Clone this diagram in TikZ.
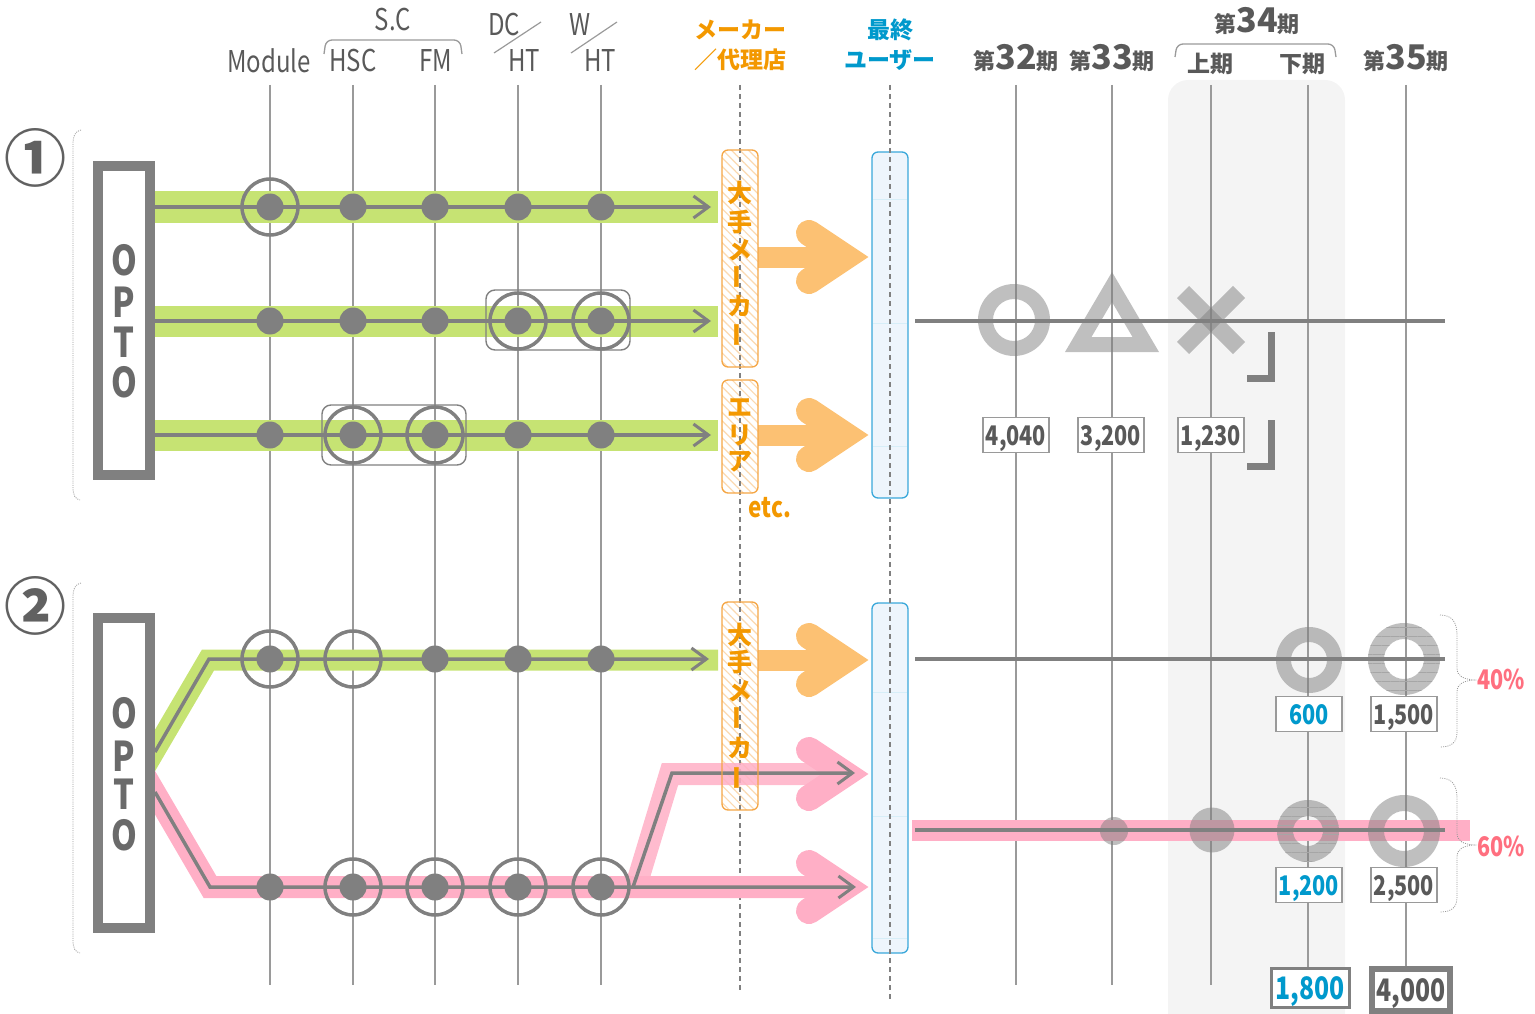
\documentclass[tikz,border=0pt]{standalone}
\usepackage{fontspec}
\setmainfont{Noto Sans CJK JP}
\newfontfamily\jp{Noto Sans CJK JP}
\newfontfamily\cond{Noto Sans CJK JP}[FakeStretch=0.8]
\usetikzlibrary{arrows.meta,patterns.meta}
\definecolor{gline}{HTML}{808080}
\definecolor{vline}{HTML}{9A9A9A}
\definecolor{txt}{HTML}{595959}
\definecolor{grn}{HTML}{C6E373}
\definecolor{pnk}{HTML}{FFAFC6}
\definecolor{org}{HTML}{F39800}
\definecolor{orgl}{HTML}{FCC173}
\definecolor{orgb}{HTML}{F5A645}
\definecolor{orgh}{HTML}{FBD9B0}
\definecolor{blu}{HTML}{0099CC}
\definecolor{blub}{HTML}{3AA8DA}
\definecolor{blul}{HTML}{EEF5FC}
\definecolor{shadebg}{HTML}{F4F4F4}
\definecolor{redp}{HTML}{FF6F7F}
\newcommand{\bigarr}[3]{%
  \draw[#1, line width=21pt] (#2,#3) -- (846,#3);
  \draw[#1, line width=26pt, line cap=round, miter limit=10] (809,#3-24) -- (845,#3) -- (809,#3+24);
}
\newcommand{\per}[1]{{\jp\bfseries\fontsize{22}{22}\selectfont 第}{\jp\bfseries\fontsize{34}{34}\selectfont #1}{\jp\bfseries\fontsize{22}{22}\selectfont 期}}
\begin{document}
\begin{tikzpicture}[x=1pt,y=-1pt,
  vl/.style={draw=vline, line width=1.6pt},
  dl/.style={draw=gline, line width=1.4pt, dash pattern=on 5pt off 4pt},
  rowline/.style={draw=gline, line width=3.5pt},
  arr/.style={-{Straight Barb[length=15pt,width=22pt,line width=3pt]}},
  dotn/.style={circle, fill=gline, minimum size=27pt, inner sep=0pt},
  ringn/.style={circle, draw=gline, line width=3.5pt, minimum size=56pt, inner sep=0pt},
  grp/.style={draw=gline, line width=1.4pt, rounded corners=9pt},
  hd/.style={font=\cond\fontsize{30}{30}\selectfont, text=txt, inner sep=0pt},
  jh/.style={font=\jp\bfseries\fontsize{23}{23}\selectfont, inner sep=0pt},
  vch/.style={font=\jp\bfseries\fontsize{25}{25}\selectfont, text=org, inner sep=0pt},
  vbox/.style={draw=vline, fill=white, line width=1.3pt, minimum width=66pt, minimum height=35pt, inner sep=0pt, text height=20pt, text depth=0pt, font=\cond\bfseries\fontsize{27}{27}\selectfont, text=txt},
  opto/.style={font=\cond\bfseries\fontsize{41}{41}\selectfont, text=txt!90, inner sep=0pt},
  pct/.style={font=\cond\bfseries\fontsize{27}{27}\selectfont, text=redp, inner sep=0pt},
  brk/.style={draw=vline, line width=0.8pt, dash pattern=on 1pt off 1.2pt},
  stripe/.style={pattern={Lines[angle=0,distance=9pt,line width=0.7pt]}, pattern color=gline!70},
  cnum/.style={font=\jp\bfseries\fontsize{62}{62}\selectfont, text=txt!95, inner sep=0pt},
]
\useasboundingbox (0,0) rectangle (1535,1014);
% shaded period band
\fill[shadebg, rounded corners=20pt] (1168,80) rectangle (1345,1050);
% vertical lines
\foreach \x in {270,353,435,518,601,1016,1112,1211} \draw[vl] (\x,85) -- (\x,985);
\draw[vl] (1308,85) -- (1308,968);
\draw[vl] (1406,85) -- (1406,966);
% orange boxes (fill)
\foreach \ya/\yb in {150/367, 380/493, 602/810} {
  \fill[white, rounded corners=6pt] (722,\ya) rectangle (758,\yb);
  \path[pattern={Lines[angle=-45,distance=6pt,line width=1.2pt]}, pattern color=orgh, rounded corners=6pt] (722,\ya) rectangle (758,\yb);
}
% blue boxes
\draw[blub, fill=blul, rounded corners=6pt, line width=1.3pt] (872,152) rectangle (908,498);
\draw[blub, fill=blul, rounded corners=6pt, line width=1.3pt] (872,603) rectangle (908,953);
\foreach \y in {200,323,446,692,816,938} \draw[blub!20, line width=1pt] (873,\y) -- (907,\y);
% dashed lines
\draw[dl] (740,85) -- (740,990);
\draw[dl] (890,85) -- (890,1000);

% ===== Section 1 =====
\foreach \y in {207,321,435} {
  \fill[grn] (150,\y-15.5) rectangle (718,\y+15.5);
  \draw[rowline, arr] (155,\y) -- (711,\y);
  \foreach \x in {270,353,435,518,601} \node[dotn] at (\x,\y) {};
}
\node[ringn] (r11) at (270,207) {};
\node[ringn] (r24) at (518,321) {};
\node[ringn] (r25) at (601,321) {};
\node[ringn] (r32) at (353,435) {};
\node[ringn] (r33) at (435,435) {};
\draw[grp] (486,290) rectangle (630,350);
\draw[grp] (322,405) rectangle (466,465);
\bigarr{orgl}{758}{257}
\bigarr{orgl}{758}{435}

% ===== Section 2 =====
\draw[grn, line width=21pt] (140,776) -- (208,660) -- (718,660);
\draw[pnk, line width=22pt] (140,767) -- (210,887) -- (846,887);
\draw[pnk, line width=22pt, opacity=0.85] (636,886) -- (670,774) -- (846,774);
\bigarr{orgl}{758}{660}
\bigarr{pnk}{846}{774}
\bigarr{pnk}{846}{887}
\coordinate (s2a) at (155,752);
\coordinate (s2b) at (155,792);
\draw[rowline, arr] (s2a) -- (209,659) -- (709,659);
\draw[rowline, arr] (s2b) -- (210,887) -- (856,887);
\draw[rowline, arr] (633,887) -- (672,773) -- (855,773);
\foreach \x in {270,435,518,601} \node[dotn] at (\x,659) {};
\foreach \x in {270,353,435,518,601} \node[dotn] at (\x,887) {};
\node[ringn] at (270,659) {};
\node[ringn] at (353,659) {};
\foreach \x in {353,435,518,601} \node[ringn] at (\x,887) {};

% orange box borders
\foreach \ya/\yb in {150/367, 380/493, 602/810}
  \draw[orgb, rounded corners=6pt, line width=1.3pt] (722,\ya) rectangle (758,\yb);

% OPTO boxes
\draw[gline, fill=white, line width=10pt] (98,166) rectangle (150,475);
\draw[gline, fill=white, line width=10pt] (98,618) rectangle (150,928);
\foreach \ch/\y in {O/260,P/302,T/342,O/382} \node[opto] at (124,\y) {\ch};
\foreach \ch/\y in {O/713,P/756,T/794,O/835} \node[opto] at (124,\y) {\ch};

% circled numbers and left brackets
\node[cnum] (n1) at (36,158) {①};
\node[cnum] (n2) at (36,606) {②};
\draw[brk] (81,130) .. controls (75,131) and (73,136) .. (73,145) -- (73,487) .. controls (73,495) and (75,499) .. (80,500);
\draw[brk] (81,583) .. controls (75,584) and (73,589) .. (73,598) -- (73,940) .. controls (73,948) and (75,952) .. (80,953);

% vertical orange text
\foreach \ch/\y in {大/193,手/222,メ/250,カ/306} \node[vch] at (740,\y) {\ch};
\foreach \y in {277,335} \node[vch, rotate=90] at (740,\y) {ー};
\foreach \ch/\y in {エ/408,リ/435,ア/462} \node[vch] at (740,\y) {\ch};
\foreach \ch/\y in {大/635,手/662,メ/691,カ/748} \node[vch] at (740,\y) {\ch};
\foreach \y in {718,778} \node[vch, rotate=90] at (740,\y) {ー};
\node[font=\cond\bfseries\fontsize{28}{28}\selectfont, text=org, inner sep=0pt] (etc) at (770,508) {etc.};

% ===== right side =====
\draw[rowline] (915,321) -- (1445,321);
\draw[rowline] (915,659) -- (1445,659);
\fill[pnk] (912,820) rectangle (1470,841);
\draw[rowline] (915,830) -- (1445,830);
% symbols
\fill[gline, opacity=0.5, even odd rule] (1014,320) circle (36) (1014,320) circle (21);
\fill[gline, opacity=0.5, even odd rule] (1065,352) -- (1159,352) -- (1112,272) -- cycle (1091.5,337) -- (1132.5,337) -- (1112,302) -- cycle;
\draw[gline, opacity=0.5, line width=17pt] (1183,292) -- (1239,348);
\draw[gline, opacity=0.5, line width=17pt] (1239,292) -- (1183,348);
\draw[gline, line width=7pt] (1247,378.5) -- (1271.5,378.5) -- (1271.5,332);
\draw[gline, line width=7pt] (1247,466.5) -- (1271.5,466.5) -- (1271.5,420);
% section 2 symbols
\fill[gline, opacity=0.5, even odd rule] (1309,660) circle (33) (1309,660) circle (18);
\fill[gline, opacity=0.5, even odd rule] (1404,659) circle (36) (1404,659) circle (20);
\fill[stripe, even odd rule] (1404,659) circle (36) (1404,659) circle (20);
\fill[gline, opacity=0.5] (1114,831) circle (14);
\fill[gline, opacity=0.5] (1212,830) circle (22.5);
\fill[gline, opacity=0.5, even odd rule] (1308,831) circle (31) (1308,831) circle (15);
\fill[stripe, even odd rule] (1308,831) circle (31) (1308,831) circle (15);
\fill[gline, opacity=0.5, even odd rule] (1404,831) circle (36) (1404,831) circle (20);
% value boxes
\node[vbox] (v32) at (1016,435) {4,040};
\node[vbox] (v33) at (1111,435) {3,200};
\node[vbox] (v34) at (1211,435) {1,230};
\node[vbox, text=blu] (v600) at (1309,714) {600};
\node[vbox] (v1500) at (1404,714) {1,500};
\node[vbox, text=blu] (v1200) at (1309,885) {1,200};
\node[vbox] (v2500) at (1404,885) {2,500};
\node[vbox, text=blu, line width=3pt, draw=gline, minimum width=78pt, minimum height=39pt, text height=23pt, font=\cond\bfseries\fontsize{31}{31}\selectfont] (v1800) at (1310,988) {1,800};
\node[vbox, line width=6pt, draw=gline, minimum width=78pt, minimum height=42pt, text height=23pt, font=\cond\bfseries\fontsize{31}{31}\selectfont] (v4000) at (1411,990) {4,000};
% right braces
\draw[brk] (1440,615) .. controls (1452,615) and (1457,622) .. (1457,635) -- (1457,668) .. controls (1457,676) and (1463,679) .. (1474,680) .. controls (1463,681) and (1457,684) .. (1457,692) -- (1457,732) .. controls (1457,742) and (1452,747) .. (1440,747);
\draw[brk] (1440,778) .. controls (1452,778) and (1457,785) .. (1457,798) -- (1457,833) .. controls (1457,841) and (1463,844) .. (1474,845) .. controls (1463,846) and (1457,849) .. (1457,857) -- (1457,897) .. controls (1457,907) and (1452,912) .. (1440,912);
\node[pct] (p40) at (1501,679) {40\%};
\node[pct] (p60) at (1501,846) {60\%};

% ===== header =====
\node[hd] (hmod) at (269,61) {Module};
\node[hd] (hhsc) at (353,61) {HSC};
\node[hd] (hfm) at (436,61) {FM};
\node[hd] (hsc) at (393,20) {S.C};
\draw[vline, line width=1.3pt, rounded corners=6pt] (324,54) -- (326,40) -- (460,40) -- (462,54);
\node[hd] (hdc) at (504,25) {DC};
\node[hd] (hht1) at (524,61) {HT};
\node[hd] (hw) at (580,25) {W};
\node[hd] (hht2) at (600,61) {HT};
\draw[vline, line width=1.2pt] (494,53) -- (541,22);
\draw[vline, line width=1.2pt] (571,53) -- (617,22);
\node[jh, text=org] (hmk1) at (740,30) {メーカー};
\node[jh, text=org] (hmk2) at (740,60) {／代理店};
\node[jh, text=blu] (hus1) at (890,30) {最終};
\node[jh, text=blu] (hus2) at (890,60) {ユーザー};
\node[text=txt, inner sep=0pt] (p32) at (1016,58) {\per{32}};
\node[text=txt, inner sep=0pt] (p33) at (1112,58) {\per{33}};
\node[text=txt, inner sep=0pt] (p34) at (1257,21) {\per{34}};
\node[text=txt, inner sep=0pt] (p35) at (1406,58) {\per{35}};
\draw[vline, line width=1.3pt, rounded corners=6pt] (1175,57) -- (1177,44) -- (1334,44) -- (1336,57);
\node[jh, text=txt] (h1) at (1210,64) {上期};
\node[jh, text=txt] (h2) at (1302,64) {下期};
\end{tikzpicture}
\end{document}
